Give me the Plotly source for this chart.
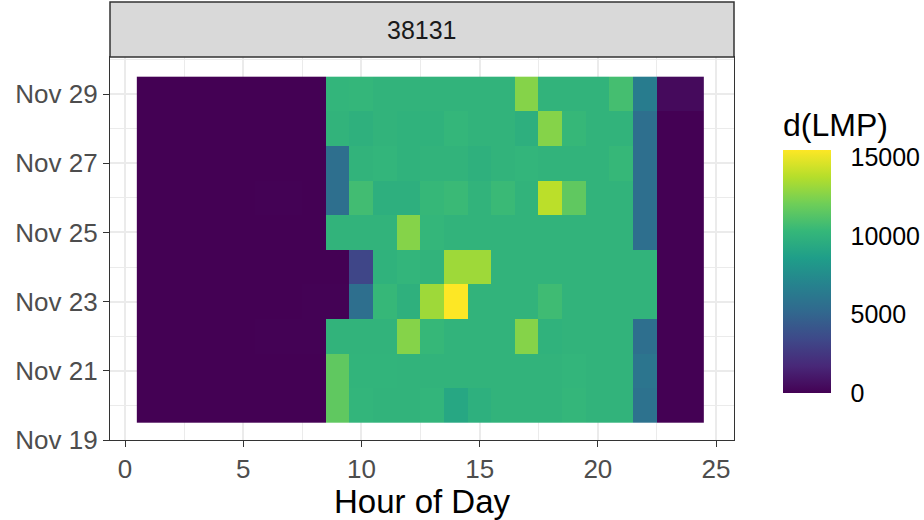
import plotly.graph_objects as go

hours = list(range(1, 25))
dates = ["2020-11-20", "2020-11-21", "2020-11-22", "2020-11-23", "2020-11-24",
         "2020-11-25", "2020-11-26", "2020-11-27", "2020-11-28", "2020-11-29"]
x_ticks = [0, 5, 10, 15, 20, 25]
y_tick_dates = ["2020-11-19", "2020-11-21", "2020-11-23", "2020-11-25", "2020-11-27", "2020-11-29"]
y_tick_labels = ["Nov 19", "Nov 21", "Nov 23", "Nov 25", "Nov 27", "Nov 29"]
cbar_ticks = [0, 5000, 10000, 15000]
facet_label = "38131"

lmp_nov20 = [0, 0, 0, 0, 0, 0, 0, 0, 11600, 10150, 10050, 10050, 10150, 9200, 9800, 10050,
             10050, 10050, 10250, 10050, 10050, 5800, 0, 0]
lmp_nov21 = [0, 0, 0, 0, 0, 0, 0, 0, 11600, 10100, 10100, 10050, 10050, 10050, 10050, 10050,
             10050, 10050, 10150, 10050, 10050, 6000, 0, 0]
lmp_nov22 = [0, 0, 0, 0, 0, 30, 30, 60, 10050, 10050, 10050, 12600, 10350, 10050, 10050, 10050,
             12600, 9950, 10050, 10050, 10050, 5600, 0, 0]
lmp_nov23 = [0, 0, 0, 0, 0, 0, 0, 30, 30, 5600, 10350, 9850, 13200, 15470, 10050, 10050,
             10050, 10600, 10050, 10050, 10050, 10050, 0, 0]
lmp_nov24 = [0, 0, 0, 0, 0, 0, 0, 0, 20, 3300, 9950, 10150, 10050, 13200, 13200, 10050,
             10050, 10050, 10050, 10050, 10050, 10050, 0, 0]
lmp_nov25 = [0, 0, 0, 0, 0, 0, 0, 0, 10050, 10050, 10050, 12600, 10250, 10050, 10050, 10050,
             10050, 10050, 10050, 10050, 10050, 5600, 0, 0]
lmp_nov26 = [0, 0, 0, 0, 0, 30, 30, 0, 5600, 10700, 9750, 9750, 10350, 10450, 10050, 10450,
             10050, 13900, 11600, 10050, 10050, 5600, 0, 0]
lmp_nov27 = [0, 0, 0, 0, 0, 0, 0, 0, 5600, 10050, 10150, 9950, 10050, 10050, 9850, 10050,
             10150, 10050, 10050, 10050, 10350, 5600, 0, 0]
lmp_nov28 = [0, 0, 0, 0, 0, 0, 0, 0, 10050, 9850, 10050, 9950, 9950, 10250, 10050, 10050,
             9750, 12600, 10350, 10050, 10050, 5600, 0, 0]
lmp_nov29 = [0, 0, 0, 0, 0, 0, 0, 0, 10150, 10250, 10050, 10050, 10050, 10050, 10050, 10050,
             12600, 10050, 10050, 10050, 10800, 6500, 400, 400]

z = [lmp_nov20, lmp_nov21, lmp_nov22, lmp_nov23, lmp_nov24,
     lmp_nov25, lmp_nov26, lmp_nov27, lmp_nov28, lmp_nov29]

FONT = "Liberation Sans, Arial, sans-serif"
TICK_SIZE = 26
TITLE_SIZE = 33

fig = go.Figure(go.Heatmap(
    x=hours, y=dates, z=z,
    colorscale="Viridis", zmin=0, zmax=15470,
    colorbar=dict(
        title=dict(text="d(LMP)", side="top", font=dict(size=32, color="#000000", family=FONT)),
        thickness=48, thicknessmode="pixels",
        len=284, lenmode="pixels",
        x=1.0785, xanchor="left", xref="paper", xpad=0, ypad=0,
        y=0.4936, yanchor="middle",
        outlinewidth=0,
        tickvals=cbar_ticks, tickformat="d",
        ticks="outside", ticklen=15, tickcolor="white", tickwidth=1,
        tickfont=dict(size=25, color="#000000", family=FONT),
    ),
    hovertemplate="Hour %{x}<br>%{y}<br>%{z}<extra></extra>",
))

fig.update_layout(
    width=924, height=520,
    margin=dict(l=110, r=190, t=57, b=80, autoexpand=False),
    paper_bgcolor="white", plot_bgcolor="white",
    font=dict(family=FONT),
    shapes=[dict(type="rect", xref="paper", yref="paper", x0=0, x1=1, y0=1.0, y1=1.1436,
                 fillcolor="#d9d9d9", line=dict(color="#333333", width=1.5), layer="above")],
    annotations=[dict(text=facet_label, xref="paper", yref="paper", x=0.5, y=1.0718,
                      showarrow=False, font=dict(size=25, color="#1a1a1a", family=FONT),
                      xanchor="center", yanchor="middle")],
)

fig.update_xaxes(
    automargin=False,
    range=[-0.635, 25.76], tickvals=x_ticks, ticks="outside", ticklen=6, tickcolor="#333333",
    tickfont=dict(size=TICK_SIZE, color="#4d4d4d"),
    title=dict(text="Hour of Day", font=dict(size=TITLE_SIZE, color="#000000"), standoff=6),
    showgrid=True, gridcolor="#ebebeb", gridwidth=1.5,
    minor=dict(dtick=2.5, tick0=0, showgrid=True, gridcolor="#ebebeb", gridwidth=0.8),
    showline=True, mirror=True, linecolor="#333333", linewidth=1.3, zeroline=False,
)
fig.update_yaxes(
    automargin=False,
    type="date", range=["2020-11-19", "2020-11-30 01:40"],
    tickvals=y_tick_dates, ticktext=y_tick_labels,
    ticks="outside", ticklen=6, tickcolor="#333333",
    tickfont=dict(size=TICK_SIZE, color="#4d4d4d"),
    showgrid=True, gridcolor="#ebebeb", gridwidth=1.5,
    minor=dict(dtick=86400000, tick0="2020-11-19", showgrid=True, gridcolor="#ebebeb", gridwidth=0.8),
    showline=True, mirror=True, linecolor="#333333", linewidth=1.3, zeroline=False,
)

fig.write_html("out.html")
